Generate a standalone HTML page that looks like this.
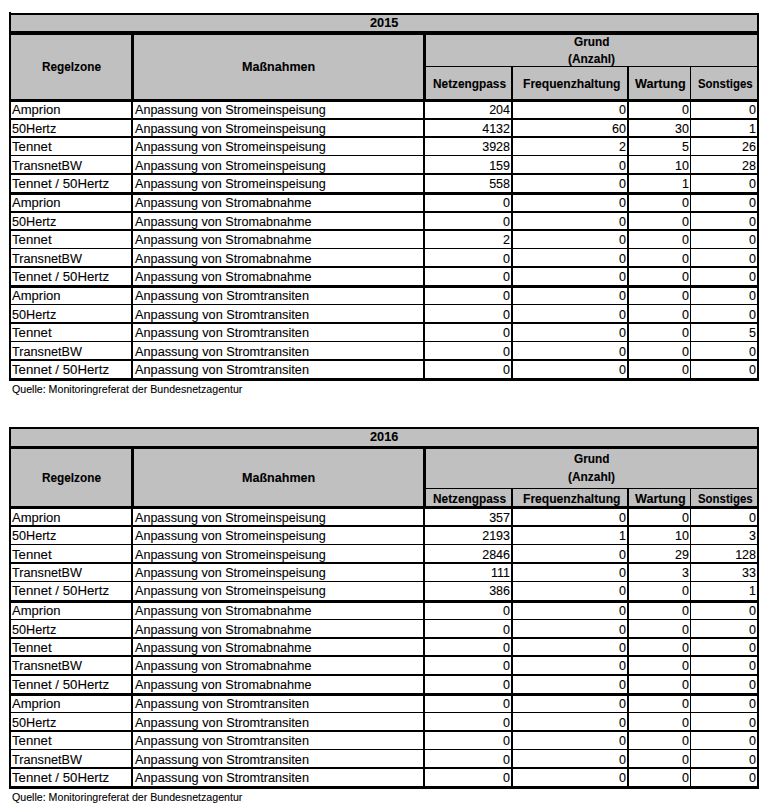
<!DOCTYPE html>
<html><head><meta charset="utf-8"><style>
html,body{margin:0;padding:0;background:#fff;width:773px;height:808px;overflow:hidden}
body{position:relative}
div{position:absolute}
.t{position:absolute;font-family:"Liberation Sans",sans-serif;font-size:12.5px;line-height:20px;white-space:nowrap;color:#000;transform-origin:0 0;-webkit-text-stroke:0.1px #000}
.b{font-weight:bold;font-size:12px}
.q{font-size:10.5px}
</style></head><body>
<div style="left:9px;top:13px;width:750px;height:368px;background:#fff"></div>
<div style="left:9px;top:13px;width:750px;height:86px;background:#c0c0c0"></div>
<div style="left:9px;top:13px;width:750px;height:2px;background:#000"></div>
<div style="left:9px;top:31px;width:750px;height:4px;background:#000"></div>
<div style="left:425px;top:66px;width:333px;height:1px;background:#000"></div>
<div style="left:9px;top:99px;width:750px;height:3px;background:#000"></div>
<div style="left:9px;top:118px;width:750px;height:2px;background:#000"></div>
<div style="left:9px;top:136px;width:750px;height:2px;background:#000"></div>
<div style="left:9px;top:155px;width:750px;height:1px;background:#000"></div>
<div style="left:9px;top:173px;width:750px;height:2px;background:#000"></div>
<div style="left:9px;top:192px;width:750px;height:3px;background:#000"></div>
<div style="left:9px;top:211px;width:750px;height:2px;background:#000"></div>
<div style="left:9px;top:229px;width:750px;height:2px;background:#000"></div>
<div style="left:9px;top:248px;width:750px;height:1px;background:#000"></div>
<div style="left:9px;top:266px;width:750px;height:2px;background:#000"></div>
<div style="left:9px;top:285px;width:750px;height:3px;background:#000"></div>
<div style="left:9px;top:304px;width:750px;height:1px;background:#000"></div>
<div style="left:9px;top:322px;width:750px;height:2px;background:#000"></div>
<div style="left:9px;top:341px;width:750px;height:1px;background:#000"></div>
<div style="left:9px;top:359px;width:750px;height:2px;background:#000"></div>
<div style="left:9px;top:378px;width:750px;height:3px;background:#000"></div>
<div style="left:9px;top:12px;width:2px;height:369px;background:#000"></div>
<div style="left:757px;top:13px;width:2px;height:368px;background:#000"></div>
<div style="left:131px;top:35px;width:3px;height:64px;background:#000"></div>
<div style="left:131px;top:99px;width:2px;height:279px;background:#000"></div>
<div style="left:423px;top:35px;width:3px;height:64px;background:#000"></div>
<div style="left:423px;top:99px;width:2px;height:279px;background:#000"></div>
<div style="left:511px;top:66px;width:2px;height:312px;background:#000"></div>
<div style="left:627px;top:66px;width:2px;height:312px;background:#000"></div>
<div style="left:690px;top:66px;width:1px;height:312px;background:#000"></div>
<span class="t b" style="left:370.15px;top:13px;transform:scaleX(1.0599)">2015</span>
<span class="t b" style="left:42.20px;top:57px;transform:scaleX(0.9830)">Regelzone</span>
<span class="t b" style="left:242.35px;top:57px;transform:scaleX(1.0468)">Maßnahmen</span>
<span class="t b" style="left:573.85px;top:32px;transform:scaleX(0.9861)">Grund</span>
<span class="t b" style="left:568.00px;top:49px;transform:scaleX(0.9930)">(Anzahl)</span>
<span class="t b" style="left:432.60px;top:74px;transform:scaleX(0.9861)">Netzengpass</span>
<span class="t b" style="left:522.70px;top:74px;transform:scaleX(1.0076)">Frequenzhaltung</span>
<span class="t b" style="left:634.65px;top:74px;transform:scaleX(1.0514)">Wartung</span>
<span class="t b" style="left:697.50px;top:74px;transform:scaleX(0.9519)">Sonstiges</span>
<span class="t" style="left:12.00px;top:100px;transform:scaleX(1.0440)">Amprion</span>
<span class="t" style="left:135.00px;top:100px;transform:scaleX(1.0057)">Anpassung von Stromeinspeisung</span>
<span class="t n" style="right:263px;top:100px">204</span>
<span class="t n" style="right:147px;top:100px">0</span>
<span class="t n" style="right:84px;top:100px">0</span>
<span class="t n" style="right:17px;top:100px">0</span>
<span class="t" style="left:12.00px;top:119px;transform:scaleX(1.0096)">50Hertz</span>
<span class="t" style="left:135.00px;top:119px;transform:scaleX(1.0057)">Anpassung von Stromeinspeisung</span>
<span class="t n" style="right:263px;top:119px">4132</span>
<span class="t n" style="right:147px;top:119px">60</span>
<span class="t n" style="right:84px;top:119px">30</span>
<span class="t n" style="right:17px;top:119px">1</span>
<span class="t" style="left:12.00px;top:137px;transform:scaleX(1.0552)">Tennet</span>
<span class="t" style="left:135.00px;top:137px;transform:scaleX(1.0057)">Anpassung von Stromeinspeisung</span>
<span class="t n" style="right:263px;top:137px">3928</span>
<span class="t n" style="right:147px;top:137px">2</span>
<span class="t n" style="right:84px;top:137px">5</span>
<span class="t n" style="right:17px;top:137px">26</span>
<span class="t" style="left:12.00px;top:156px;transform:scaleX(1.0142)">TransnetBW</span>
<span class="t" style="left:135.00px;top:156px;transform:scaleX(1.0057)">Anpassung von Stromeinspeisung</span>
<span class="t n" style="right:263px;top:156px">159</span>
<span class="t n" style="right:147px;top:156px">0</span>
<span class="t n" style="right:84px;top:156px">10</span>
<span class="t n" style="right:17px;top:156px">28</span>
<span class="t" style="left:12.00px;top:174px;transform:scaleX(1.0576)">Tennet / 50Hertz</span>
<span class="t" style="left:135.00px;top:174px;transform:scaleX(1.0057)">Anpassung von Stromeinspeisung</span>
<span class="t n" style="right:263px;top:174px">558</span>
<span class="t n" style="right:147px;top:174px">0</span>
<span class="t n" style="right:84px;top:174px">1</span>
<span class="t n" style="right:17px;top:174px">0</span>
<span class="t" style="left:12.00px;top:193px;transform:scaleX(1.0440)">Amprion</span>
<span class="t" style="left:135.00px;top:193px;transform:scaleX(1.0073)">Anpassung von Stromabnahme</span>
<span class="t n" style="right:263px;top:193px">0</span>
<span class="t n" style="right:147px;top:193px">0</span>
<span class="t n" style="right:84px;top:193px">0</span>
<span class="t n" style="right:17px;top:193px">0</span>
<span class="t" style="left:12.00px;top:212px;transform:scaleX(1.0096)">50Hertz</span>
<span class="t" style="left:135.00px;top:212px;transform:scaleX(1.0073)">Anpassung von Stromabnahme</span>
<span class="t n" style="right:263px;top:212px">0</span>
<span class="t n" style="right:147px;top:212px">0</span>
<span class="t n" style="right:84px;top:212px">0</span>
<span class="t n" style="right:17px;top:212px">0</span>
<span class="t" style="left:12.00px;top:230px;transform:scaleX(1.0552)">Tennet</span>
<span class="t" style="left:135.00px;top:230px;transform:scaleX(1.0073)">Anpassung von Stromabnahme</span>
<span class="t n" style="right:263px;top:230px">2</span>
<span class="t n" style="right:147px;top:230px">0</span>
<span class="t n" style="right:84px;top:230px">0</span>
<span class="t n" style="right:17px;top:230px">0</span>
<span class="t" style="left:12.00px;top:249px;transform:scaleX(1.0142)">TransnetBW</span>
<span class="t" style="left:135.00px;top:249px;transform:scaleX(1.0073)">Anpassung von Stromabnahme</span>
<span class="t n" style="right:263px;top:249px">0</span>
<span class="t n" style="right:147px;top:249px">0</span>
<span class="t n" style="right:84px;top:249px">0</span>
<span class="t n" style="right:17px;top:249px">0</span>
<span class="t" style="left:12.00px;top:267px;transform:scaleX(1.0576)">Tennet / 50Hertz</span>
<span class="t" style="left:135.00px;top:267px;transform:scaleX(1.0073)">Anpassung von Stromabnahme</span>
<span class="t n" style="right:263px;top:267px">0</span>
<span class="t n" style="right:147px;top:267px">0</span>
<span class="t n" style="right:84px;top:267px">0</span>
<span class="t n" style="right:17px;top:267px">0</span>
<span class="t" style="left:12.00px;top:286px;transform:scaleX(1.0440)">Amprion</span>
<span class="t" style="left:135.00px;top:286px;transform:scaleX(1.0179)">Anpassung von Stromtransiten</span>
<span class="t n" style="right:263px;top:286px">0</span>
<span class="t n" style="right:147px;top:286px">0</span>
<span class="t n" style="right:84px;top:286px">0</span>
<span class="t n" style="right:17px;top:286px">0</span>
<span class="t" style="left:12.00px;top:305px;transform:scaleX(1.0096)">50Hertz</span>
<span class="t" style="left:135.00px;top:305px;transform:scaleX(1.0179)">Anpassung von Stromtransiten</span>
<span class="t n" style="right:263px;top:305px">0</span>
<span class="t n" style="right:147px;top:305px">0</span>
<span class="t n" style="right:84px;top:305px">0</span>
<span class="t n" style="right:17px;top:305px">0</span>
<span class="t" style="left:12.00px;top:323px;transform:scaleX(1.0552)">Tennet</span>
<span class="t" style="left:135.00px;top:323px;transform:scaleX(1.0179)">Anpassung von Stromtransiten</span>
<span class="t n" style="right:263px;top:323px">0</span>
<span class="t n" style="right:147px;top:323px">0</span>
<span class="t n" style="right:84px;top:323px">0</span>
<span class="t n" style="right:17px;top:323px">5</span>
<span class="t" style="left:12.00px;top:342px;transform:scaleX(1.0142)">TransnetBW</span>
<span class="t" style="left:135.00px;top:342px;transform:scaleX(1.0179)">Anpassung von Stromtransiten</span>
<span class="t n" style="right:263px;top:342px">0</span>
<span class="t n" style="right:147px;top:342px">0</span>
<span class="t n" style="right:84px;top:342px">0</span>
<span class="t n" style="right:17px;top:342px">0</span>
<span class="t" style="left:12.00px;top:360px;transform:scaleX(1.0576)">Tennet / 50Hertz</span>
<span class="t" style="left:135.00px;top:360px;transform:scaleX(1.0179)">Anpassung von Stromtransiten</span>
<span class="t n" style="right:263px;top:360px">0</span>
<span class="t n" style="right:147px;top:360px">0</span>
<span class="t n" style="right:84px;top:360px">0</span>
<span class="t n" style="right:17px;top:360px">0</span>
<span class="t q" style="left:11.60px;top:379px;transform:scaleX(1.0121)">Quelle: Monitoringreferat der Bundesnetzagentur</span>
<div style="left:9px;top:427px;width:750px;height:362px;background:#fff"></div>
<div style="left:9px;top:427px;width:750px;height:79px;background:#c0c0c0"></div>
<div style="left:9px;top:427px;width:750px;height:2px;background:#000"></div>
<div style="left:9px;top:446px;width:750px;height:3px;background:#000"></div>
<div style="left:425px;top:488px;width:333px;height:1px;background:#000"></div>
<div style="left:9px;top:506px;width:750px;height:3px;background:#000"></div>
<div style="left:9px;top:525px;width:750px;height:2px;background:#000"></div>
<div style="left:9px;top:544px;width:750px;height:1px;background:#000"></div>
<div style="left:9px;top:562px;width:750px;height:2px;background:#000"></div>
<div style="left:9px;top:581px;width:750px;height:1px;background:#000"></div>
<div style="left:9px;top:600px;width:750px;height:3px;background:#000"></div>
<div style="left:9px;top:619px;width:750px;height:1px;background:#000"></div>
<div style="left:9px;top:637px;width:750px;height:2px;background:#000"></div>
<div style="left:9px;top:655px;width:750px;height:2px;background:#000"></div>
<div style="left:9px;top:674px;width:750px;height:2px;background:#000"></div>
<div style="left:9px;top:693px;width:750px;height:3px;background:#000"></div>
<div style="left:9px;top:712px;width:750px;height:1px;background:#000"></div>
<div style="left:9px;top:730px;width:750px;height:2px;background:#000"></div>
<div style="left:9px;top:749px;width:750px;height:1px;background:#000"></div>
<div style="left:9px;top:767px;width:750px;height:2px;background:#000"></div>
<div style="left:9px;top:786px;width:750px;height:3px;background:#000"></div>
<div style="left:9px;top:427px;width:2px;height:362px;background:#000"></div>
<div style="left:757px;top:427px;width:2px;height:362px;background:#000"></div>
<div style="left:131px;top:449px;width:3px;height:57px;background:#000"></div>
<div style="left:131px;top:506px;width:2px;height:280px;background:#000"></div>
<div style="left:423px;top:449px;width:3px;height:57px;background:#000"></div>
<div style="left:423px;top:506px;width:2px;height:280px;background:#000"></div>
<div style="left:511px;top:488px;width:2px;height:298px;background:#000"></div>
<div style="left:627px;top:488px;width:2px;height:298px;background:#000"></div>
<div style="left:690px;top:488px;width:1px;height:298px;background:#000"></div>
<span class="t b" style="left:370.15px;top:427px;transform:scaleX(1.0599)">2016</span>
<span class="t b" style="left:42.20px;top:468px;transform:scaleX(0.9830)">Regelzone</span>
<span class="t b" style="left:242.35px;top:468px;transform:scaleX(1.0468)">Maßnahmen</span>
<span class="t b" style="left:573.85px;top:449px;transform:scaleX(0.9861)">Grund</span>
<span class="t b" style="left:568.00px;top:467px;transform:scaleX(0.9930)">(Anzahl)</span>
<span class="t b" style="left:432.60px;top:489px;transform:scaleX(0.9861)">Netzengpass</span>
<span class="t b" style="left:522.70px;top:489px;transform:scaleX(1.0076)">Frequenzhaltung</span>
<span class="t b" style="left:634.65px;top:489px;transform:scaleX(1.0514)">Wartung</span>
<span class="t b" style="left:697.50px;top:489px;transform:scaleX(0.9519)">Sonstiges</span>
<span class="t" style="left:12.00px;top:508px;transform:scaleX(1.0440)">Amprion</span>
<span class="t" style="left:135.00px;top:508px;transform:scaleX(1.0057)">Anpassung von Stromeinspeisung</span>
<span class="t n" style="right:263px;top:508px">357</span>
<span class="t n" style="right:147px;top:508px">0</span>
<span class="t n" style="right:84px;top:508px">0</span>
<span class="t n" style="right:17px;top:508px">0</span>
<span class="t" style="left:12.00px;top:526px;transform:scaleX(1.0096)">50Hertz</span>
<span class="t" style="left:135.00px;top:526px;transform:scaleX(1.0057)">Anpassung von Stromeinspeisung</span>
<span class="t n" style="right:263px;top:526px">2193</span>
<span class="t n" style="right:147px;top:526px">1</span>
<span class="t n" style="right:84px;top:526px">10</span>
<span class="t n" style="right:17px;top:526px">3</span>
<span class="t" style="left:12.00px;top:545px;transform:scaleX(1.0552)">Tennet</span>
<span class="t" style="left:135.00px;top:545px;transform:scaleX(1.0057)">Anpassung von Stromeinspeisung</span>
<span class="t n" style="right:263px;top:545px">2846</span>
<span class="t n" style="right:147px;top:545px">0</span>
<span class="t n" style="right:84px;top:545px">29</span>
<span class="t n" style="right:17px;top:545px">128</span>
<span class="t" style="left:12.00px;top:563px;transform:scaleX(1.0142)">TransnetBW</span>
<span class="t" style="left:135.00px;top:563px;transform:scaleX(1.0057)">Anpassung von Stromeinspeisung</span>
<span class="t n" style="right:263px;top:563px">111</span>
<span class="t n" style="right:147px;top:563px">0</span>
<span class="t n" style="right:84px;top:563px">3</span>
<span class="t n" style="right:17px;top:563px">33</span>
<span class="t" style="left:12.00px;top:581px;transform:scaleX(1.0576)">Tennet / 50Hertz</span>
<span class="t" style="left:135.00px;top:581px;transform:scaleX(1.0057)">Anpassung von Stromeinspeisung</span>
<span class="t n" style="right:263px;top:581px">386</span>
<span class="t n" style="right:147px;top:581px">0</span>
<span class="t n" style="right:84px;top:581px">0</span>
<span class="t n" style="right:17px;top:581px">1</span>
<span class="t" style="left:12.00px;top:601px;transform:scaleX(1.0440)">Amprion</span>
<span class="t" style="left:135.00px;top:601px;transform:scaleX(1.0073)">Anpassung von Stromabnahme</span>
<span class="t n" style="right:263px;top:601px">0</span>
<span class="t n" style="right:147px;top:601px">0</span>
<span class="t n" style="right:84px;top:601px">0</span>
<span class="t n" style="right:17px;top:601px">0</span>
<span class="t" style="left:12.00px;top:620px;transform:scaleX(1.0096)">50Hertz</span>
<span class="t" style="left:135.00px;top:620px;transform:scaleX(1.0073)">Anpassung von Stromabnahme</span>
<span class="t n" style="right:263px;top:620px">0</span>
<span class="t n" style="right:147px;top:620px">0</span>
<span class="t n" style="right:84px;top:620px">0</span>
<span class="t n" style="right:17px;top:620px">0</span>
<span class="t" style="left:12.00px;top:638px;transform:scaleX(1.0552)">Tennet</span>
<span class="t" style="left:135.00px;top:638px;transform:scaleX(1.0073)">Anpassung von Stromabnahme</span>
<span class="t n" style="right:263px;top:638px">0</span>
<span class="t n" style="right:147px;top:638px">0</span>
<span class="t n" style="right:84px;top:638px">0</span>
<span class="t n" style="right:17px;top:638px">0</span>
<span class="t" style="left:12.00px;top:656px;transform:scaleX(1.0142)">TransnetBW</span>
<span class="t" style="left:135.00px;top:656px;transform:scaleX(1.0073)">Anpassung von Stromabnahme</span>
<span class="t n" style="right:263px;top:656px">0</span>
<span class="t n" style="right:147px;top:656px">0</span>
<span class="t n" style="right:84px;top:656px">0</span>
<span class="t n" style="right:17px;top:656px">0</span>
<span class="t" style="left:12.00px;top:675px;transform:scaleX(1.0576)">Tennet / 50Hertz</span>
<span class="t" style="left:135.00px;top:675px;transform:scaleX(1.0073)">Anpassung von Stromabnahme</span>
<span class="t n" style="right:263px;top:675px">0</span>
<span class="t n" style="right:147px;top:675px">0</span>
<span class="t n" style="right:84px;top:675px">0</span>
<span class="t n" style="right:17px;top:675px">0</span>
<span class="t" style="left:12.00px;top:694px;transform:scaleX(1.0440)">Amprion</span>
<span class="t" style="left:135.00px;top:694px;transform:scaleX(1.0179)">Anpassung von Stromtransiten</span>
<span class="t n" style="right:263px;top:694px">0</span>
<span class="t n" style="right:147px;top:694px">0</span>
<span class="t n" style="right:84px;top:694px">0</span>
<span class="t n" style="right:17px;top:694px">0</span>
<span class="t" style="left:12.00px;top:713px;transform:scaleX(1.0096)">50Hertz</span>
<span class="t" style="left:135.00px;top:713px;transform:scaleX(1.0179)">Anpassung von Stromtransiten</span>
<span class="t n" style="right:263px;top:713px">0</span>
<span class="t n" style="right:147px;top:713px">0</span>
<span class="t n" style="right:84px;top:713px">0</span>
<span class="t n" style="right:17px;top:713px">0</span>
<span class="t" style="left:12.00px;top:731px;transform:scaleX(1.0552)">Tennet</span>
<span class="t" style="left:135.00px;top:731px;transform:scaleX(1.0179)">Anpassung von Stromtransiten</span>
<span class="t n" style="right:263px;top:731px">0</span>
<span class="t n" style="right:147px;top:731px">0</span>
<span class="t n" style="right:84px;top:731px">0</span>
<span class="t n" style="right:17px;top:731px">0</span>
<span class="t" style="left:12.00px;top:750px;transform:scaleX(1.0142)">TransnetBW</span>
<span class="t" style="left:135.00px;top:750px;transform:scaleX(1.0179)">Anpassung von Stromtransiten</span>
<span class="t n" style="right:263px;top:750px">0</span>
<span class="t n" style="right:147px;top:750px">0</span>
<span class="t n" style="right:84px;top:750px">0</span>
<span class="t n" style="right:17px;top:750px">0</span>
<span class="t" style="left:12.00px;top:768px;transform:scaleX(1.0576)">Tennet / 50Hertz</span>
<span class="t" style="left:135.00px;top:768px;transform:scaleX(1.0179)">Anpassung von Stromtransiten</span>
<span class="t n" style="right:263px;top:768px">0</span>
<span class="t n" style="right:147px;top:768px">0</span>
<span class="t n" style="right:84px;top:768px">0</span>
<span class="t n" style="right:17px;top:768px">0</span>
<span class="t q" style="left:11.60px;top:787px;transform:scaleX(1.0121)">Quelle: Monitoringreferat der Bundesnetzagentur</span>
</body></html>
